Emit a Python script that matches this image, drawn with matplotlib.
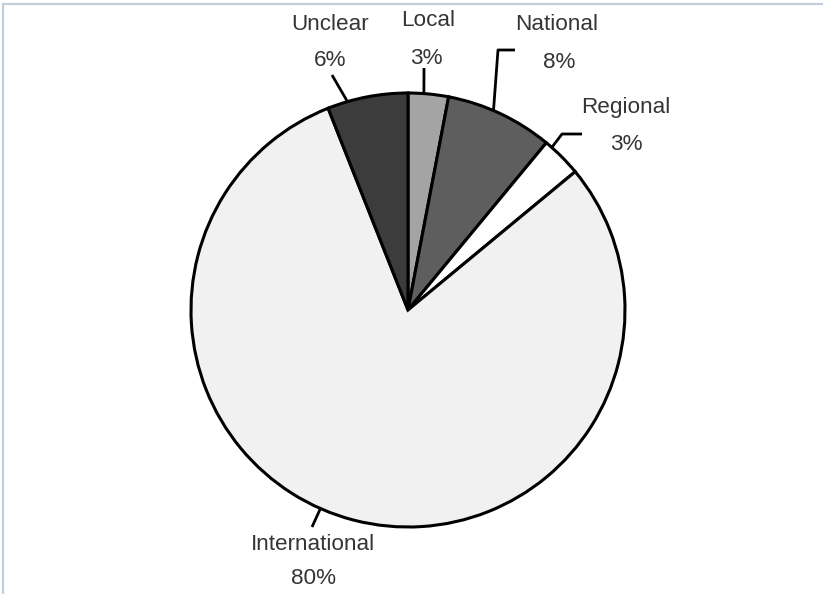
import numpy as np
import matplotlib
matplotlib.use("Agg")
import matplotlib.pyplot as plt

# Data
labels = ["Local", "National", "Regional", "International", "Unclear"]
shares = [3, 8, 3, 80, 6]
pct_labels = [f"{v}%" for v in shares]

# Styling
colors = ["#a4a4a4", "#5e5e5e", "#ffffff", "#f1f1f1", "#3c3c3c"]
W, H = 823, 594
center_px = (408, 310)
radius = 217

def py(y):
    """Convert a top-down pixel row to data y."""
    return H - y

fig = plt.figure(figsize=(W / 100, H / 100), dpi=100)
ax = fig.add_axes([0, 0, 1, 1])

cx, cy = center_px[0], py(center_px[1])
ax.pie(shares, colors=colors, startangle=90, counterclock=False,
       center=(cx, cy), radius=radius, frame=True,
       wedgeprops=dict(edgecolor="black", linewidth=2.2))
ax.set_xlim(0, W)
ax.set_ylim(0, H)
ax.set_aspect("equal")
ax.axis("off")

# label text positions (name, percent) in pixel rows
name_pos = [(428, 20), (557, 25), (626, 108), (313, 544), (330, 24)]
pct_pos = [(426, 58), (559, 62), (626, 145), (314, 578), (330, 61)]
# leader anchor angle on the rim (degrees clockwise from top)
anchor_deg = [4.2, 23.2, 41.5, 203.8, 343.8]
# remaining leader vertices in pixels
leader_rest = [
    [(424, 68)],
    [(498, 50), (515, 50)],
    [(562, 134), (582, 134)],
    [(312, 527)],
    [(332, 75)],
]

txt = dict(fontsize=16.2, color="#353535", ha="center", va="center",
           family=["Liberation Sans", "DejaVu Sans"])
for name, pct, npos, ppos, a, rest in zip(labels, pct_labels, name_pos,
                                          pct_pos, anchor_deg, leader_rest):
    ax.text(npos[0], py(npos[1]), name, **txt)
    ax.text(ppos[0], py(ppos[1]), pct, **txt)
    t = np.deg2rad(a)
    xs = [cx + radius * np.sin(t)] + [p[0] for p in rest]
    ys = [cy + radius * np.cos(t)] + [py(p[1]) for p in rest]
    ax.plot(xs, ys, color="black", lw=2.0, solid_capstyle="butt")

# thin frame along the top and left edges
ax.plot([3, W], [py(4), py(4)], color="#c3ced9", lw=1.6, clip_on=False)
ax.plot([3, 3], [py(4), 0], color="#c3ced9", lw=1.6, clip_on=False)

fig.savefig("out.png", dpi=100, facecolor="white")
